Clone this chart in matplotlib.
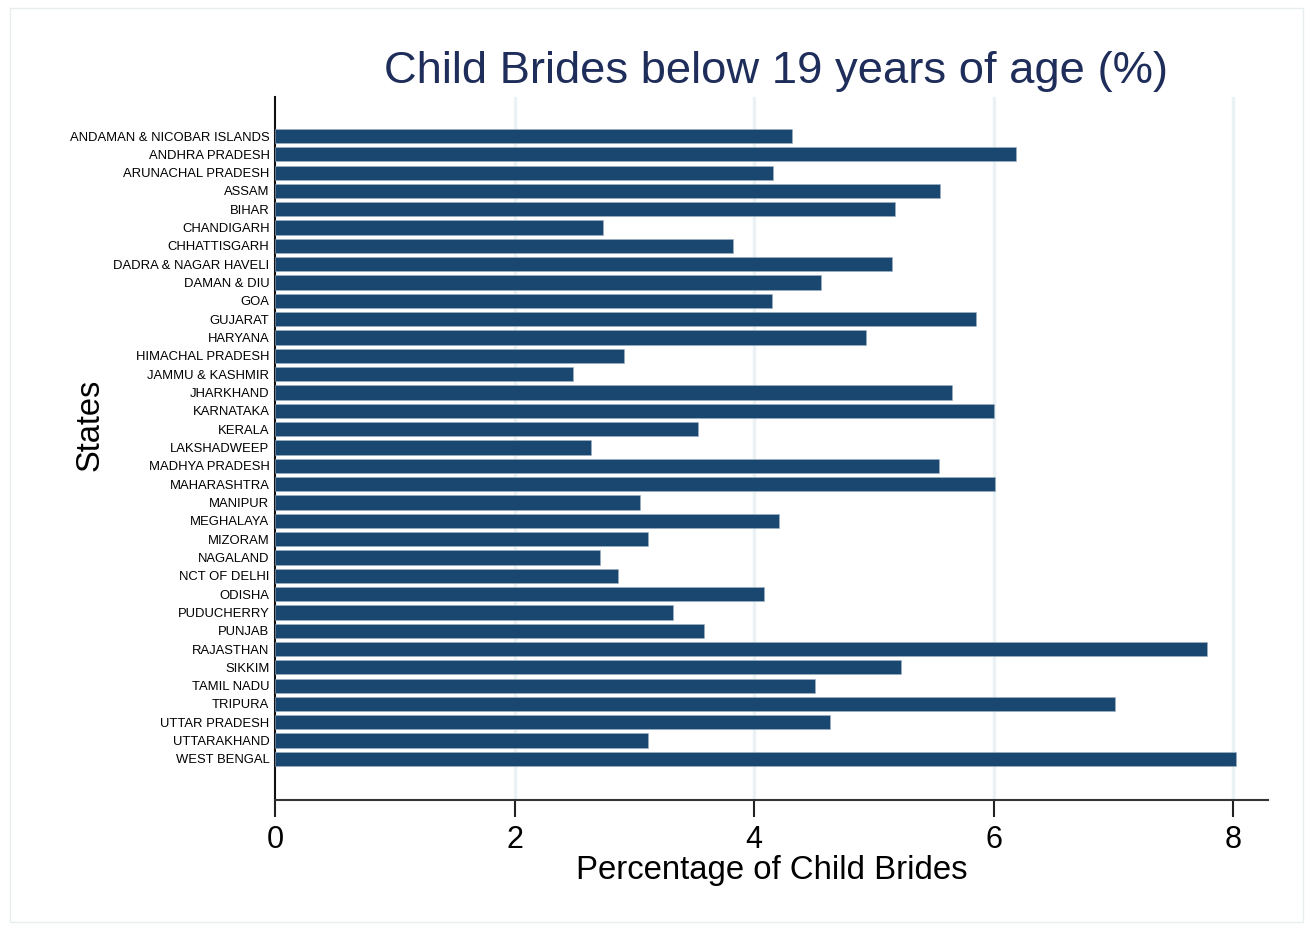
import matplotlib.pyplot as plt
from matplotlib.patches import Rectangle

plt.rcParams['font.family'] = ['Liberation Sans', 'DejaVu Sans']

states = ["ANDAMAN & NICOBAR ISLANDS", "ANDHRA PRADESH", "ARUNACHAL PRADESH", "ASSAM",
          "BIHAR", "CHANDIGARH", "CHHATTISGARH", "DADRA & NAGAR HAVELI", "DAMAN & DIU",
          "GOA", "GUJARAT", "HARYANA", "HIMACHAL PRADESH", "JAMMU & KASHMIR", "JHARKHAND",
          "KARNATAKA", "KERALA", "LAKSHADWEEP", "MADHYA PRADESH", "MAHARASHTRA", "MANIPUR",
          "MEGHALAYA", "MIZORAM", "NAGALAND", "NCT OF DELHI", "ODISHA", "PUDUCHERRY",
          "PUNJAB", "RAJASTHAN", "SIKKIM", "TAMIL NADU", "TRIPURA", "UTTAR PRADESH",
          "UTTARAKHAND", "WEST BENGAL"]
pct = [4.32, 6.19, 4.16, 5.55, 5.18, 2.74, 3.82, 5.15, 4.56, 4.15, 5.85, 4.93, 2.91,
       2.49, 5.65, 6.00, 3.53, 2.64, 5.54, 6.01, 3.05, 4.21, 3.11, 2.71, 2.86, 4.08,
       3.32, 3.58, 7.78, 5.23, 4.51, 7.01, 4.63, 3.11, 8.02]
xticks = [0, 2, 4, 6, 8]

navy = '#1a476f'

fig = plt.figure(figsize=(13.08, 9.27), dpi=100)
# faint outer frame like the original graph region
fig.patches.append(Rectangle((10/1308, 5/927), 1293/1308, 914/927, transform=fig.transFigure,
                             fill=False, edgecolor='#e8eeef', linewidth=1))
ax = fig.add_axes([275/1308, 127/927, 993/1308, 703/927])

pos = list(range(len(states)))
ax.barh(pos, pct, height=0.78, color=navy, edgecolor='#9fb3c4', linewidth=0.4, zorder=3)
ax.set_ylim(36.24, -2.13)
ax.set_xlim(0, 8.29)
ax.set_yticks(pos)
ax.set_yticklabels(states, fontsize=9.4)
ax.tick_params(axis='y', length=0, pad=4)
ax.set_xticks(xticks)
ax.set_xticklabels([str(t) for t in xticks], fontsize=22)
ax.tick_params(axis='x', length=12, width=1.5, pad=6, color='#222222')

for t in xticks[1:]:
    ax.axvline(t, color='#eaf2f3', linewidth=2.5, zorder=1)

ax.spines['top'].set_visible(False)
ax.spines['right'].set_visible(False)
ax.spines['left'].set_linewidth(1.5)
ax.spines['bottom'].set_linewidth(1.5)
ax.spines['left'].set_color('#111111')
ax.spines['bottom'].set_color('#333333')

ax.set_xlabel('Percentage of Child Brides', fontsize=23.7, labelpad=0)
fig.text(90/1308, 1 - 425/927, 'States', fontsize=23.5, rotation=90,
         ha='center', va='center')
fig.text(776/1308, 1 - 71/927, 'Child Brides below 19 years of age (%)', fontsize=32.7,
         color='#1e2d5a', ha='center', va='center')

fig.savefig('out.png', dpi=100, facecolor='white')
